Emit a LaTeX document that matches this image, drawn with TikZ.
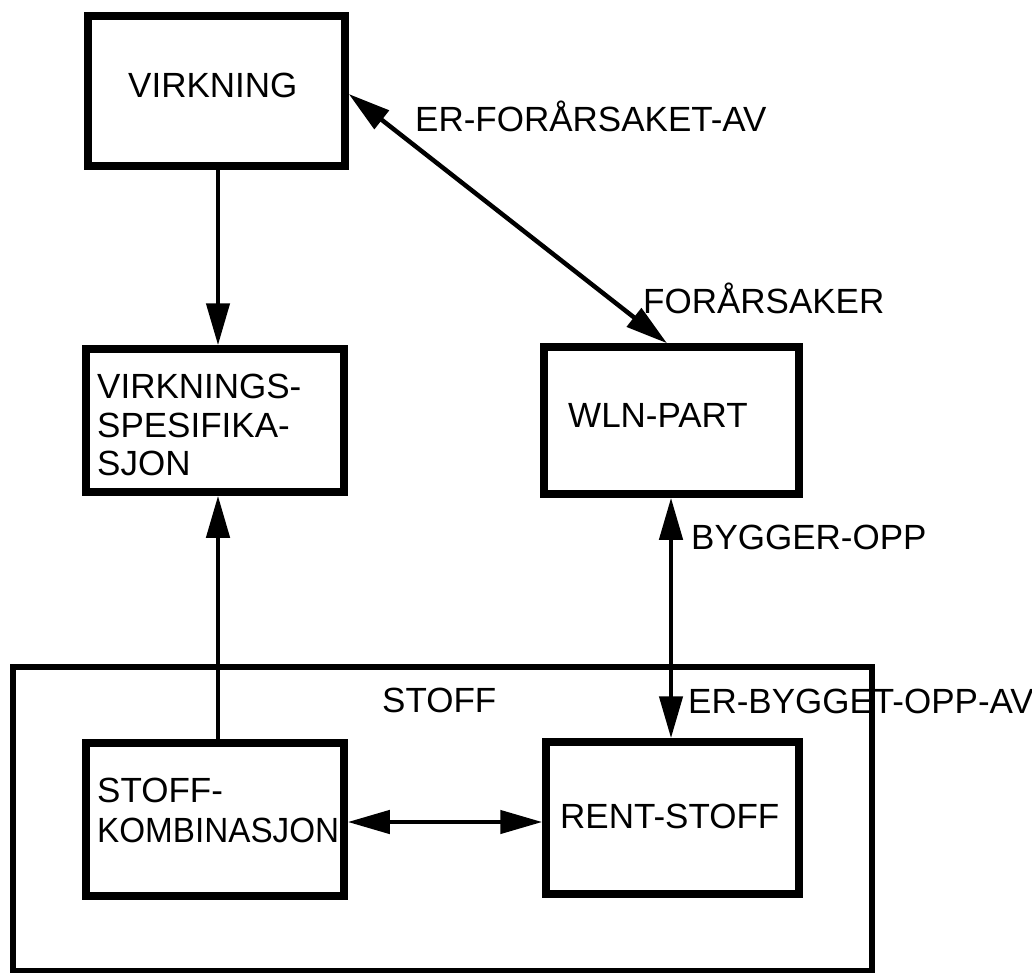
\documentclass[tikz,border=0pt]{standalone}
\usepackage{fontspec}
\usepackage{graphicx}
\setmainfont{Liberation Sans}
\usetikzlibrary{arrows.meta}
\tikzset{
  box/.style={draw, line width=7.5pt, rectangle, inner sep=0pt},
  outerbox/.style={draw, line width=6pt, rectangle, inner sep=0pt},
  lbl/.style={anchor=base west, inner sep=0pt, font=\fontsize{35pt}{38pt}\selectfont},
  conn/.style={line width=4.5pt, {Triangle[length=42pt,width=23pt]}-{Triangle[length=42pt,width=23pt]}},
  oneway/.style={line width=4.5pt, -{Triangle[length=42pt,width=23pt]}},
}
\begin{document}
\begin{tikzpicture}[x=1pt,y=-1pt]
\useasboundingbox (0,0) rectangle (1032,973);
% outer STOFF frame
\node[outerbox, minimum width=859.5pt, minimum height=304pt] (stoff) at (442.25,819) {};
% boxes
\node[box, minimum width=257pt, minimum height=150pt] (virk) at (216.5,91) {};
\node[box, minimum width=258pt, minimum height=143pt] (spes) at (215,420.5) {};
\node[box, minimum width=255pt, minimum height=147pt] (wln) at (671.5,420.5) {};
\node[box, minimum width=258pt, minimum height=153pt] (komb) at (215,819.5) {};
\node[box, minimum width=253pt, minimum height=152pt] (rent) at (672.5,818) {};
% texts
\node[lbl] (tvirk) at (128,98) {VIRKNING};
\node[lbl] (tspes1) at (97,398) {VIRKNINGS-};
\node[lbl] (tspes2) at (97,437) {SPESIFIKA-};
\node[lbl] (tspes3) at (97,475) {SJON};
\node[lbl] (twln) at (568,427) {WLN-PART};
\node[lbl] (tstoff) at (382,712) {STOFF};
\node[lbl] (tkomb1) at (97,802) {STOFF-};
\node[lbl] (tkomb2) at (97,842) {\scalebox{0.95}[1]{KOMBINASJON}};
\node[lbl] (trent) at (560,828) {RENT-STOFF};
\node[lbl] (lerf) at (415,132) {ER-FORÅRSAKET-AV};
\node[lbl] (lfor) at (643,313) {FORÅRSAKER};
\node[lbl] (lbyg) at (691,549) {BYGGER-OPP};
\node[lbl] (lerb) at (688,713) {ER-BYGGET-OPP-AV};
% connectors
\coordinate (wlntop) at ([xshift=-4.5pt]wln.north);
\coordinate (virkright) at ([yshift=-3pt]virk.east);
\draw[conn] (virkright) -- (wlntop);
\draw[oneway] ([xshift=1.5pt]virk.south) -- ([xshift=3pt]spes.north);
\draw[oneway] ([xshift=3pt]komb.north) -- ([xshift=3pt]spes.south);
\draw[conn] ([xshift=-0.5pt]wln.south) -- ([xshift=-1.5pt]rent.north);
\draw[conn] ([yshift=-2.5pt]komb.east) -- ([yshift=-2.5pt]komb.east -| rent.west);
\end{tikzpicture}
\end{document}
